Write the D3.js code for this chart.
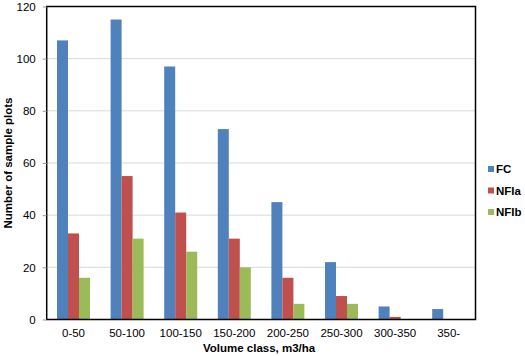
<!DOCTYPE html>
<html><head><meta charset="utf-8">
<script src="https://cdn.jsdelivr.net/npm/d3@7"></script>
<style>body{margin:0;background:#fff}svg{display:block}text{font-family:"Liberation Sans",Arial,sans-serif}</style>
</head><body><svg id="c" width="525" height="356"></svg>
<script>
const categories = ["0-50","50-100","100-150","150-200","200-250","250-300","300-350","350-"];
const seriesNames = ["FC","NFIa","NFIb"];
const FC   = [107,115,97,73,45,22,5,4];
const NFIa = [33,55,41,31,16,9,1,0];
const NFIb = [16,31,26,20,6,6,0,0];
const yTicks = [0,20,40,60,80,100,120];
const colors = ["#4F81BD","#C0504D","#9BBB59"];
const values = [FC,NFIa,NFIb];

const svg = d3.select("#c");
const L=46.7, R=475.5, T=6.5, B=319.5;
const x0 = d3.scaleBand().domain(categories).range([L,R]).padding(0);
const bw = x0.bandwidth();
const gw = 33;
const x1 = d3.scaleBand().domain(seriesNames).range([(bw-gw)/2,(bw+gw)/2]).padding(0);
const y = d3.scaleLinear().domain([0,120]).range([B,T]);

// gridlines
svg.append("g").selectAll("line").data(yTicks.filter(d=>d>0)).join("line")
  .attr("x1",L).attr("x2",R).attr("y1",d=>y(d)).attr("y2",d=>y(d))
  .attr("stroke","#d9d9d9").attr("stroke-width",1);

// bars
seriesNames.forEach((s,si)=>{
  svg.append("g").selectAll("rect").data(categories).join("rect")
    .attr("x",c=>x0(c)+x1(s))
    .attr("width",x1.bandwidth())
    .attr("y",(c,i)=>y(values[si][i]))
    .attr("height",(c,i)=>B-y(values[si][i]))
    .attr("fill",colors[si]);
});

// border
svg.append("rect").attr("x",L).attr("y",T).attr("width",R-L).attr("height",B-T)
  .attr("fill","none").attr("stroke","#000").attr("stroke-width",1.5);

// y axis
const ya = svg.append("g").attr("transform",`translate(${L},0)`)
  .call(d3.axisLeft(y).tickValues(yTicks).tickSize(4).tickPadding(7));
ya.select(".domain").remove();
ya.selectAll("line").attr("stroke","#999");
ya.selectAll("text").attr("font-size",11.5).attr("fill","#000");

// x axis labels
const xa = svg.append("g").attr("transform",`translate(0,${B})`)
  .call(d3.axisBottom(x0).tickSize(0).tickPadding(9));
xa.select(".domain").remove();
xa.selectAll("text").attr("font-size",11.5).attr("fill","#000");

// axis titles
svg.append("text").attr("x",(L+R)/2-2).attr("y",352).attr("text-anchor","middle")
  .attr("font-size",11.5).attr("font-weight","bold").text("Volume class, m3/ha");
svg.append("text").attr("transform",`translate(12,${(T+B)/2}) rotate(-90)`)
  .attr("text-anchor","middle").attr("font-size",11.5).attr("font-weight","bold")
  .text("Number of sample plots");

// legend
const lg = svg.append("g").selectAll("g").data(seriesNames).join("g")
  .attr("transform",(d,i)=>`translate(488,${169+i*21.5})`);
lg.append("rect").attr("x",0).attr("y",-3).attr("width",6).attr("height",6).attr("fill",(d,i)=>colors[i]);
lg.append("text").attr("x",8).attr("y",4).attr("font-size",11.5).attr("font-weight","bold").text(d=>d);
</script></body></html>
